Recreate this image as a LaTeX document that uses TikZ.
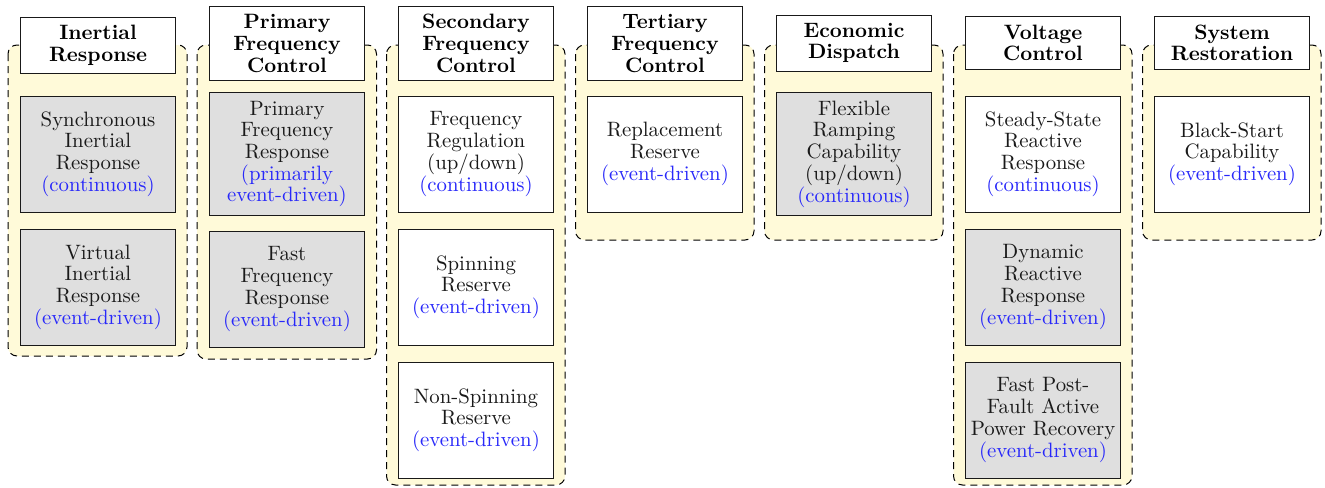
\documentclass[tikz,border=0pt]{standalone}
\usepackage{fontspec}
\definecolor{grpbg}{RGB}{255,250,217}
\definecolor{modeblue}{RGB}{40,40,250}
\newcommand{\mytxt}{\fontsize{10.4pt}{10.85pt}\selectfont}
\newcommand{\md}[1]{\textcolor{modeblue}{#1}}
\tikzset{
  hdr/.style={draw=black!90, fill=white, text width=73.5pt, minimum width=77.5pt,
    inner xsep=2pt, inner ysep=4pt, align=center, font=\mytxt\bfseries},
  svc/.style={draw=black!90, text width=73.5pt, minimum width=77.5pt, minimum height=58pt,
    inner xsep=2pt, inner ysep=4pt, align=center, font=\mytxt, text=black!90},
  gsvc/.style={svc, fill=gray!25},
  wsvc/.style={svc, fill=white},
  grp/.style={draw=black, line width=0.5pt, dash pattern=on 3.5pt off 2.5pt,
    rounded corners=4.5pt, fill=grpbg}
}
\begin{document}
\begin{tikzpicture}[x=0.5pt, y=-0.5pt]
\useasboundingbox (0,0) rectangle (1325,487);
% groups
\draw[grp] (8,45) rectangle (187,356);
\draw[grp] (197,45) rectangle (376.5,359);
\draw[grp] (386.5,45) rectangle (565,485);
\draw[grp] (575.5,45) rectangle (754,240);
\draw[grp] (764.5,45) rectangle (943,240);
\draw[grp] (953.5,45) rectangle (1132,485);
\draw[grp] (1142.5,45) rectangle (1321,240);
% headers
\node[hdr] (h1) at (98,45) {Inertial\\Response};
\node[hdr] (h2) at (287,43.4) {Primary\\Frequency\\Control};
\node[hdr] (h3) at (476,43.5) {Secondary\\Frequency\\Control};
\node[hdr] (h4) at (665,43.5) {Tertiary\\Frequency\\Control};
\node[hdr] (h5) at (854,43) {Economic\\Dispatch};
\node[hdr] (h6) at (1043,43) {Voltage\\Control};
\node[hdr] (h7) at (1232,43) {System\\Restoration};
% column 1
\node[gsvc] (a1) at (98,154) {Synchronous\\Inertial\\Response\\\md{(continuous)}};
\node[gsvc] (a2) at (98,287) {Virtual\\Inertial\\Response\\\md{(event-driven)}};
% column 2
\node[gsvc] (b1) at (287,154) {Primary\\Frequency\\Response\\\md{(primarily}\\\md{event-driven)}};
\node[gsvc] (b2) at (287,289) {Fast\\Frequency\\Response\\\md{(event-driven)}};
% column 3
\node[wsvc] (c1) at (476,154) {Frequency\\Regulation\\(up/down)\\\md{(continuous)}};
\node[wsvc] (c2) at (476,287) {Spinning\\Reserve\\\md{(event-driven)}};
\node[wsvc] (c3) at (476,420) {Non-Spinning\\Reserve\\\md{(event-driven)}};
% column 4
\node[wsvc] (d1) at (665,154) {Replacement\\Reserve\\\md{(event-driven)}};
% column 5
\node[gsvc] (e1) at (854,154) {Flexible\\Ramping\\Capability\\(up/down)\\\md{(continuous)}};
% column 6
\node[wsvc] (f1) at (1043,154) {Steady-State\\Reactive\\Response\\\md{(continuous)}};
\node[gsvc] (f2) at (1043,287) {Dynamic\\Reactive\\Response\\\md{(event-driven)}};
\node[gsvc] (f3) at (1043,420) {Fast Post-\\Fault Active\\Power Recovery\\\md{(event-driven)}};
% column 7
\node[wsvc] (g1) at (1232,154) {Black-Start\\Capability\\\md{(event-driven)}};
\end{tikzpicture}
\end{document}
